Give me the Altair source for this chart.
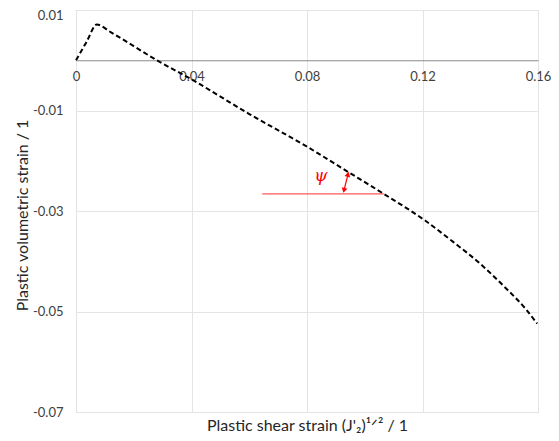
import altair as alt
import pandas as pd

# curve data
x_vals = [0.0, 0.0036, 0.0072, 0.0120, 0.0200, 0.0280, 0.0400, 0.0600, 0.0800, 0.0939,
          0.1066, 0.1209, 0.1305, 0.1400, 0.1484, 0.1556, 0.1597]
y_vals = [0.0, 0.0036, 0.0071, 0.0056, 0.0028, 0.0000, -0.0038, -0.0107, -0.0172, -0.0221,
          -0.0266, -0.0319, -0.0361, -0.0405, -0.0451, -0.0494, -0.0524]

# annotation (dilatancy angle)
ref_line_x = [0.0645, 0.1066]
ref_line_y = [-0.0266, -0.0266]
arrow_x = [0.0928, 0.0942]
arrow_y = [-0.0259, -0.0227]
psi_x = [0.0848]
psi_y = [-0.0230]
psi_text = ["ψ"]

x_ticks = [0, 0.04, 0.08, 0.12, 0.16]
y_ticks = [0.01, -0.01, -0.03, -0.05, -0.07]
x_domain = [0, 0.16]
y_domain = [-0.07, 0.01]

W, H = 462, 402
FONT = "Lato"
zero_offset = -H * (0 - y_domain[0]) / (y_domain[1] - y_domain[0])

curve = pd.DataFrame({"x": x_vals, "y": y_vals})
refl = pd.DataFrame({"x": ref_line_x, "y": ref_line_y})
arr = pd.DataFrame({"x": [arrow_x[0]], "y": [arrow_y[0]], "x2": [arrow_x[1]], "y2": [arrow_y[1]]})
heads = pd.DataFrame({"x": arrow_x, "y": arrow_y, "ang": [194, 14]})
psi = pd.DataFrame({"x": psi_x, "y": psi_y, "t": psi_text})

xs = alt.Scale(domain=x_domain, nice=False, zero=False)
ys = alt.Scale(domain=y_domain, nice=False, zero=False)

x_axis = alt.Axis(
    values=x_ticks, grid=True, gridColor="#e4e4e4", ticks=False,
    domainColor="#8a8a8a", domainWidth=1,
    offset=zero_offset, labelPadding=10, labelFontSize=13, labelColor="#404040",
    labelFont=FONT, labelFlush=False,
    labelExpr="datum.value == 0 ? '0' : format(datum.value, '.2f')",
    title="Plastic shear strain (J'₂)¹ᐟ² / 1", titleFont=FONT, titleFontSize=16,
    titleFontWeight="normal", titleColor="#262626",
    titleY=-zero_offset + 13, titleBaseline="middle",
)
y_axis = alt.Axis(
    values=y_ticks, grid=True, gridColor="#e4e4e4", ticks=False, domain=False,
    labelPadding=13, labelFontSize=13, labelColor="#404040", labelFont=FONT,
    labelExpr="replace(format(datum.value, '.2f'), '\u2212', '-')", labelFlush=False,
    labelBaseline={"condition": {"test": "datum.value > 0.005", "value": "top"}, "value": "middle"},
    labelOffset={"condition": {"test": "datum.value > 0.005", "value": -1}, "value": 0},
    title="Plastic volumetric strain / 1", titleFont=FONT, titleFontSize=16,
    titleFontWeight="normal", titleColor="#262626",
    titleX=-54, titleY=205, titleBaseline="middle", titleAlign="center", titleAngle=-90,
)

line = alt.Chart(curve).mark_line(
    color="black", strokeDash=[5, 3], strokeWidth=2, interpolate="monotone"
).encode(
    x=alt.X("x:Q", scale=xs, axis=x_axis),
    y=alt.Y("y:Q", scale=ys, axis=y_axis),
)

ref = alt.Chart(refl).mark_line(color="#ff3030", strokeWidth=1).encode(x="x:Q", y="y:Q")

arrow = alt.Chart(arr).mark_rule(color="#ff0000", strokeWidth=1.2).encode(
    x="x:Q", y="y:Q", x2="x2:Q", y2="y2:Q")

head = alt.Chart(heads).mark_point(
    shape="triangle-up", filled=True, color="#ff0000", size=34, opacity=1
).encode(x="x:Q", y="y:Q", angle=alt.Angle("ang:Q", scale=None))

psi_mark = alt.Chart(psi).mark_text(
    color="#ff0000", fontSize=17, font="DejaVu Serif", fontStyle="italic"
).encode(x="x:Q", y="y:Q", text="t:N")

chart = alt.layer(line, ref, arrow, head, psi_mark).properties(
    width=W, height=H,
    autosize=alt.AutoSizeParams(type="none"),
    padding={"left": 68, "top": 2, "right": 13, "bottom": 26},
).configure_view(stroke="#b3b3b3", strokeWidth=1)

chart.save("out.html", embed_options={"renderer": "svg", "actions": False})
